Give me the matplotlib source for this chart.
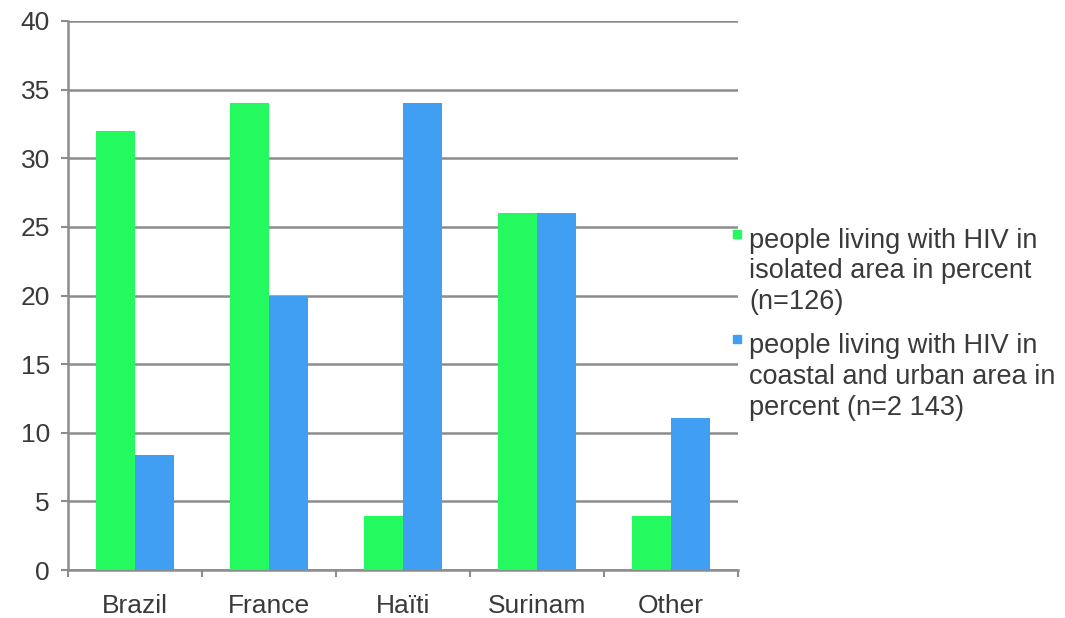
import matplotlib
matplotlib.use("Agg")
import matplotlib.pyplot as plt
import numpy as np
from matplotlib.patches import Rectangle

categories = ["Brazil", "France", "Haïti", "Surinam", "Other"]
isolated = [32, 34, 3.9, 26, 3.9]
coastal = [8.4, 20, 34, 26, 11.1]
label_isolated = "people living with HIV in\nisolated area in percent\n(n=126)"
label_coastal = "people living with HIV in\ncoastal and urban area in\npercent (n=2 143)"
yticks = [0, 5, 10, 15, 20, 25, 30, 35, 40]

green = "#24F960"
blue = "#419FF3"
gray = "#8c8c8c"
txt = "#3a3a3a"

plt.rcParams['font.family'] = ['Liberation Sans', 'DejaVu Sans']

fig = plt.figure(figsize=(10.65, 6.18), dpi=100)
ax = fig.add_axes([68/1065, 1-570/618, 670/1065, 549/618])

x = np.arange(len(categories))
w = 0.29
ax.bar(x - w/2, isolated, width=w, color=green, zorder=3)
ax.bar(x + w/2, coastal, width=w, color=blue, zorder=3)

ax.set_xlim(-0.5, len(categories) - 0.5)
ax.set_ylim(0, 40)
ax.set_yticks(yticks)
ax.set_yticklabels([str(t) for t in yticks])
ax.yaxis.grid(True, color=gray, linewidth=1.8, zorder=0)
ax.set_axisbelow(True)

ax.set_xticks(x)
ax.set_xticklabels(categories)
ax.set_xticks(np.arange(len(categories) + 1) - 0.5, minor=True)
ax.tick_params(axis='x', which='major', length=0, pad=17, labelsize=19, labelcolor=txt)
ax.tick_params(axis='x', which='minor', length=5, width=1.5, color=gray, direction='out')
ax.tick_params(axis='y', length=5, width=1.5, color=gray, pad=8, labelsize=19, labelcolor=txt)

for s in ['top', 'right']:
    ax.spines[s].set_visible(False)
for s in ['left', 'bottom']:
    ax.spines[s].set_color(gray)
    ax.spines[s].set_linewidth(1.8)

# legend drawn manually (handles at top-left of each multi-line label)
fs = 19.5
fig.text(749/1065, 1-228/618, label_isolated, fontsize=fs, color=txt, va='top', ha='left', linespacing=1.22)
fig.text(749/1065, 1-333/618, label_coastal, fontsize=fs, color=txt, va='top', ha='left', linespacing=1.24)
fig.patches.append(Rectangle((733/1065, 1-238/618), 8/1065, 8/618, transform=fig.transFigure, color=green, figure=fig))
fig.patches.append(Rectangle((733/1065, 1-343/618), 8/1065, 8/618, transform=fig.transFigure, color=blue, figure=fig))

fig.savefig("out.png", dpi=100, facecolor="white")
